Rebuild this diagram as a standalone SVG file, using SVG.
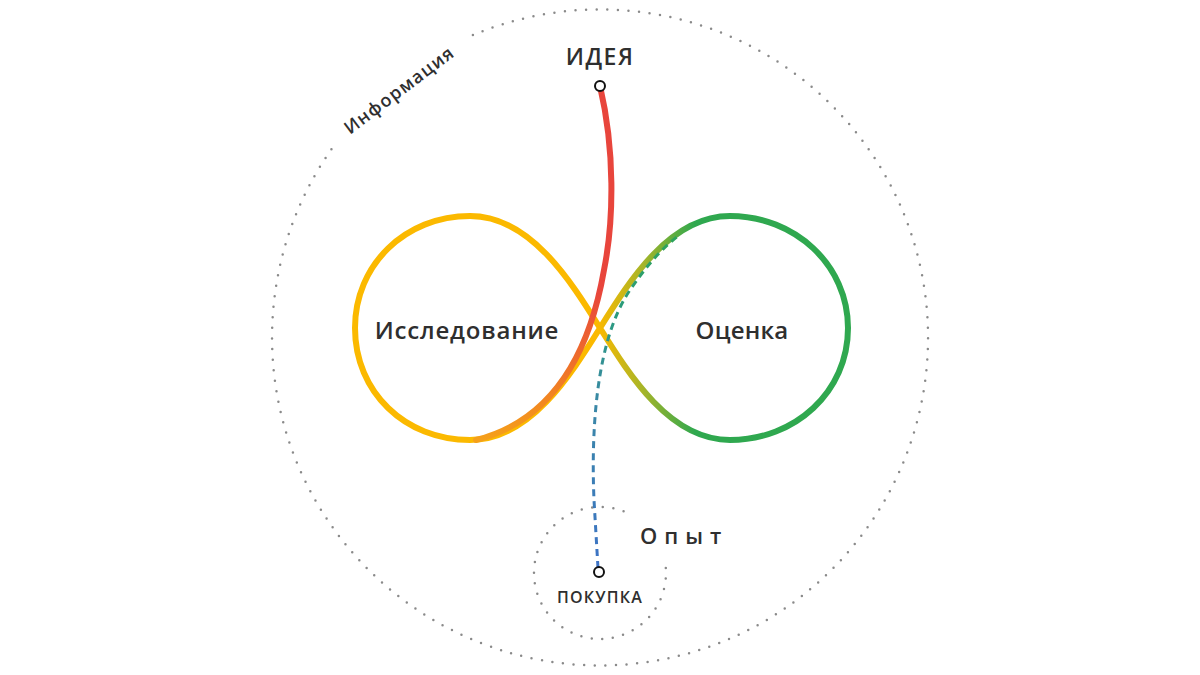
<svg xmlns="http://www.w3.org/2000/svg" width="1200" height="675" viewBox="0 0 1200 675">
  <defs>
    <linearGradient id="loopGrad" gradientUnits="userSpaceOnUse" x1="598" y1="0" x2="695" y2="0">
      <stop offset="0" stop-color="#FBB900"/>
      <stop offset="0.45" stop-color="#A9B527"/>
      <stop offset="1" stop-color="#2FA84F"/>
    </linearGradient>
    <linearGradient id="ideaGrad" gradientUnits="userSpaceOnUse" x1="0" y1="290" x2="0" y2="440">
      <stop offset="0" stop-color="#E8453C"/>
      <stop offset="0.6" stop-color="#F07A26"/>
      <stop offset="1" stop-color="#F5A01A"/>
    </linearGradient>
    <linearGradient id="buyGrad" gradientUnits="userSpaceOnUse" x1="0" y1="570" x2="0" y2="236">
      <stop offset="0" stop-color="#3D72C6"/>
      <stop offset="0.5" stop-color="#3A88A6"/>
      <stop offset="0.75" stop-color="#2B9A80"/>
      <stop offset="1" stop-color="#2EA35A"/>
    </linearGradient>
  </defs>
  <style>
    .dots { fill: none; stroke: #8a8a8a; stroke-width: 2.5; stroke-linecap: round; stroke-dasharray: 0 10.6; }
    .lbl { font-family: "Open Sans", "Liberation Sans", sans-serif; font-weight: 600; fill: #2f2f2f; }
    .pt { fill: #ffffff; stroke: #111111; stroke-width: 2; }
  </style>
  <rect width="1200" height="675" fill="#ffffff"/>

  <g id="information">
    <path class="dots" d="M472.9,35.1 A328,328 0 1 1 333,147"/>
    <text class="lbl" x="403" y="95" font-size="18" letter-spacing="1.2" text-anchor="middle" transform="rotate(-37 403 95)">Информация</text>
  </g>

  <g id="experience">
    <path class="dots" d="M665.8,568.1 A66,66 0 1 1 630,514.2"/>
    <text class="lbl" x="640" y="544" font-size="22" letter-spacing="7" font-weight="700">Опыт</text>
  </g>

  <g id="research">
    <text class="lbl" x="467" y="339" font-size="24" letter-spacing="0.8" text-anchor="middle">Исследование</text>
  </g>

  <g id="evaluation">
    <text class="lbl" x="742" y="339" font-size="24" letter-spacing="0.2" text-anchor="middle">Оценка</text>
  </g>

  <g id="connectors">
    <path fill="none" stroke="url(#loopGrad)" stroke-width="6" stroke-linejoin="round" d="M600,328 C570,280 530,216 470,216 C405,216 355,265 355,328 C355,392 405,440 470,440 C530,440 570,376 600,328 C630,280 670,216 730,216 C795,216 848,265 848,328 C848,392 795,440 730,440 C670,440 630,376 600,328 Z"/>
    <path fill="none" stroke="url(#ideaGrad)" stroke-width="6" stroke-linecap="round" d="M600,86 C615,150 614,220 604,270 C590,350 555,420 476,440"/>
    <path fill="none" stroke="url(#buyGrad)" stroke-width="3" stroke-dasharray="7 5" d="M598,568 L594,500 C591,430 596,340 630,290 C645,268 660,250 678,236"/>
  </g>

  <g id="idea">
    <text class="lbl" x="600" y="65" font-size="23" letter-spacing="1.5" text-anchor="middle" font-weight="700">ИДЕЯ</text>
    <circle class="pt" cx="600" cy="86" r="5"/>
  </g>

  <g id="purchase">
    <circle class="pt" cx="599" cy="572" r="5"/>
    <text class="lbl" x="600" y="603" font-size="16" letter-spacing="1.2" text-anchor="middle">ПОКУПКА</text>
  </g>
</svg>
